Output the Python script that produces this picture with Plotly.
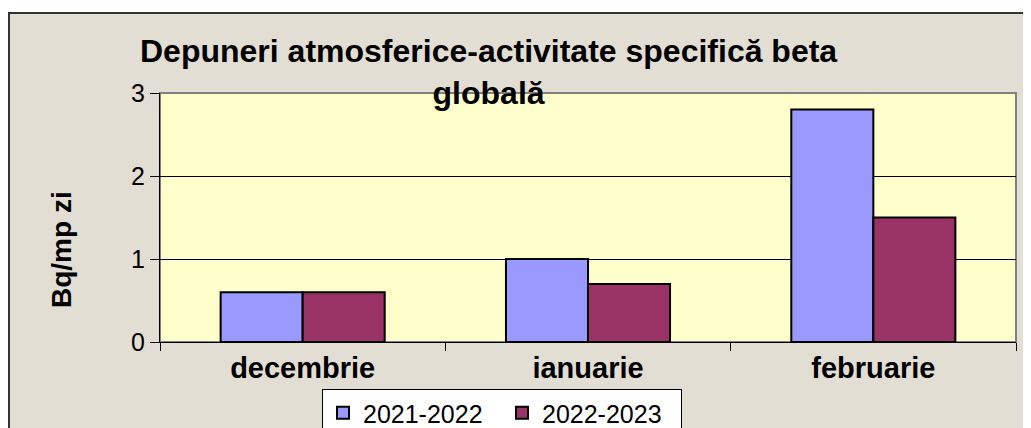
import plotly.graph_objects as go

# data
months = ["decembrie", "ianuarie", "februarie"]
season_2021_2022 = [0.6, 1.0, 2.8]
season_2022_2023 = [0.6, 0.7, 1.5]
y_ticks = [0, 1, 2, 3]

# the page body has an 8px margin, so the figure starts at (8, 8) in the window
OFF = 8
W, H = 1031 - OFF, 428 - OFF
L, R, T, B = 152, 15, 85, 86
pw, ph = W - L - R, H - T - B


def px_x(v):
    # window pixel -> paper coordinate
    return (v - OFF - L) / pw


def px_y(v):
    return (H - B - (v - OFF)) / ph


font = "Arial, Liberation Sans, sans-serif"
beige = "#E3DED4"

fig = go.Figure()
fig.add_trace(go.Bar(x=months, y=season_2021_2022, name="2021-2022",
                     marker=dict(color="#9999FF", line=dict(color="black", width=2))))
fig.add_trace(go.Bar(x=months, y=season_2022_2023, name="2022-2023",
                     marker=dict(color="#993366", line=dict(color="black", width=2))))

shapes = [
    # white strip above the chart frame
    dict(type="rect", xref="paper", yref="paper", x0=px_x(0), x1=px_x(1040), y0=px_y(13), y1=px_y(0),
         fillcolor="white", line=dict(width=0), layer="below"),
    # frame lines
    dict(type="line", xref="paper", yref="paper", x0=px_x(8), x1=px_x(1040), y0=px_y(13), y1=px_y(13),
         line=dict(color="#333333", width=2)),
    dict(type="line", xref="paper", yref="paper", x0=px_x(9), x1=px_x(9), y0=px_y(13), y1=px_y(440),
         line=dict(color="#333333", width=2)),
    # plot area border
    dict(type="rect", xref="paper", yref="paper", x0=0, x1=1, y0=0, y1=1,
         line=dict(color="#808080", width=2), layer="below"),
]

annotations = [
    dict(text="<b>Depuneri atmosferice-activitate specifică beta<br>globală</b>",
         xref="paper", yref="paper", x=px_x(488), y=px_y(31), xanchor="center", yanchor="top",
         showarrow=False, font=dict(family=font, size=32, color="black")),
    dict(text="<b>Bq/mp zi</b>", textangle=-90, xref="paper", yref="paper",
         x=px_x(61), y=px_y(250), xanchor="center", yanchor="middle",
         showarrow=False, font=dict(family=font, size=28, color="black")),
]

fig.update_layout(
    width=W, height=H,
    margin=dict(l=L, r=R, t=T, b=B, autoexpand=False),
    paper_bgcolor=beige,
    plot_bgcolor="#FFFFCC",
    barmode="group", bargap=0.425, bargroupgap=0,
    shapes=shapes,
    annotations=annotations,
    showlegend=True,
    legend=dict(orientation="h", x=px_x(322), y=px_y(389), xanchor="left", yanchor="top",
                bgcolor="white", bordercolor="black", borderwidth=1,
                font=dict(family=font, size=25, color="black"),
                itemwidth=30, entrywidth=134, tracegroupgap=0),
    xaxis=dict(showline=True, linecolor="black", linewidth=1, automargin=False,
               ticks="outside", tickson="boundaries", ticklen=8, tickcolor="black",
               tickfont=dict(family=font, size=29, color="black", weight="bold"),
               showgrid=False),
    yaxis=dict(range=[0, 3], tickvals=y_ticks, showline=True, linecolor="black", linewidth=1,
               automargin=False, ticks="outside", ticklen=9, tickcolor="black",
               tickfont=dict(family=font, size=25, color="black"),
               showgrid=True, gridcolor="black", gridwidth=1, zeroline=False),
)

fig.write_html("out.html")
